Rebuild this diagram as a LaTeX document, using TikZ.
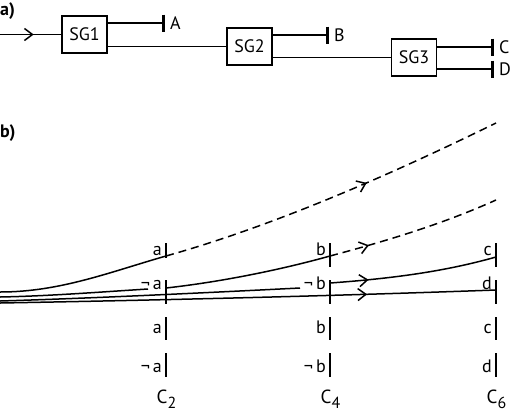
\documentclass[tikz,border=0pt]{standalone}
\usepackage{fontspec}
\setmainfont{PT Sans}
\usetikzlibrary{arrows.meta,decorations.markings}

\tikzset{
  sgbox/.style={draw, line width=1.5pt, minimum width=45pt, minimum height=37pt, inner sep=0pt, font=\fontsize{18}{20}\selectfont},
  wire/.style={line width=1.5pt},
  stopbar/.style={wire, -{Bar[width=17pt,line width=2.8pt]}},
  dash line/.style={wire, dash pattern=on 8pt off 5pt},
  chev/.style={postaction={decorate}, decoration={markings, mark=at position #1 with {\arrow{Straight Barb[length=8pt,width=12pt]}}}},
  lbl/.style={inner sep=0pt, font=\fontsize{18}{20}\selectfont},
  part/.style={inner sep=0pt, anchor=base west, font=\fontsize{18}{20}\selectfont\bfseries},
}

\begin{document}
\begin{tikzpicture}[x=1pt, y=-1pt]
    \useasboundingbox (0,0) rectangle (510,413);

    % a) the three stages
    \node[part] (parta) at (0,15) {a)};
    \coordinate (in) at (0,34.5);
    \node[sgbox] (SG1) at (84.5,34.5) {SG1};
    \node[sgbox] (SG2) at (249.5,46.5) {SG2};
    \node[sgbox] (SG3) at (414,57.5) {SG3};
    \coordinate (A) at (165,23);
    \coordinate (B) at (329,35);
    \coordinate (C) at (494,47);
    \coordinate (D) at (494,69);
    \node[lbl, anchor=west] (labA) at ([xshift=5pt]A) {A};
    \node[lbl, anchor=west] (labB) at ([xshift=5pt]B) {B};
    \node[lbl, anchor=west] (labC) at ([xshift=5pt]C) {C};
    \node[lbl, anchor=west] (labD) at ([xshift=5pt]D) {D};

    \draw[wire, chev=0.55] (in) -- (SG1);
    \draw[stopbar] (SG1.east |- A) -- (A);
    \draw[wire] (SG1.east |- SG2) -- (SG2.west);
    \draw[stopbar] (SG2.east |- B) -- (B);
    \draw[wire] (SG2.east |- SG3) -- (SG3.west);
    \draw[stopbar] (SG3.east |- C) -- (C);
    \draw[stopbar] (SG3.east |- D) -- (D);

    % b) the paths over the checkpoints
    \node[part] (partb) at (0,137) {b)};
    \foreach \x/\n/\la/\lb/\e in {166/2/a/{¬\,a}/258, 330/4/b/{¬\,b}/267, 496/6/c/d/267} {
        \draw[wire] (\x,243) -- (\x,\e);
        \draw[wire] (\x,280) -- (\x,304);
        \draw[wire] (\x,317) -- (\x,340);
        \draw[wire] (\x,353) -- (\x,377);
        \node[lbl, anchor=base east] (r\n-1) at (\x-4,255) {\la};
        \node[lbl, anchor=base east] (r\n-2) at (\x-4,289) {\lb};
        \node[lbl, anchor=base east] (r\n-3) at (\x-4,333) {\la};
        \node[lbl, anchor=base east] (r\n-4) at (\x-4,372) {\lb};
        \node[lbl, anchor=base west, font=\fontsize{19}{21}\selectfont] (C\n) at (\x-9.5,403) {C\raisebox{-5pt}{\fontsize{16}{18}\selectfont\n}};
    }

    \coordinate (s1) at (0,292);
    \coordinate (s2) at (0,297);
    \coordinate (s3) at (0,301);
    \coordinate (s4) at (0,303);
    \coordinate (a1) at (166,256);
    \coordinate (na) at (148,289);
    \coordinate (a2) at (166,288);
    \coordinate (b1) at (330,256);
    \coordinate (nb) at (300,288);
    \coordinate (b2) at (330,283);
    \coordinate (e1) at (496,123);
    \coordinate (e2) at (496,200);
    \coordinate (c1) at (496,257);
    \coordinate (d1) at (496,290);

    \draw[wire] (s1) .. controls (60,292) and (110,272) .. (a1);
    \draw[dash line, chev=0.6] (a1) .. controls (280,224) and (400,170) .. (e1);
    \draw[wire] (s2) .. controls (50,296) and (100,292) .. (na);
    \draw[wire] (a2) .. controls (220,282) and (280,270) .. (b1);
    \draw[dash line, chev=0.23] (b1) .. controls (390,240) and (445,223) .. (e2);
    \draw[wire] (s3) .. controls (100,298) and (220,292) .. (nb);
    \draw[wire, chev=0.23] (b2) .. controls (400,278) and (450,270) .. (c1);
    \draw[wire, chev=0.74] (s4) .. controls (165,300) and (330,296) .. (d1);
\end{tikzpicture}
\end{document}
